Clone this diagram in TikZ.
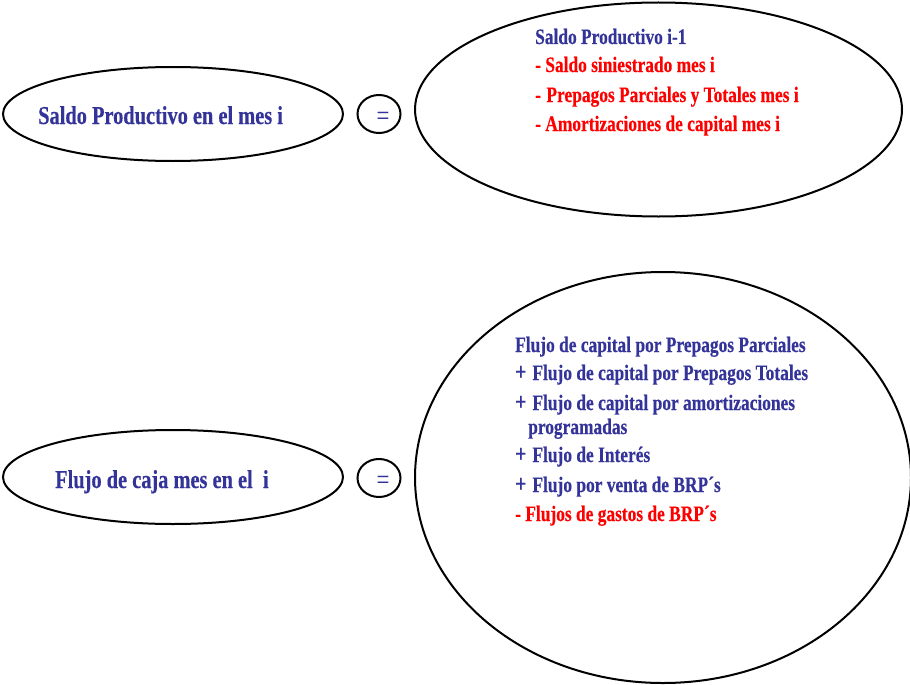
\documentclass[tikz,border=0pt]{standalone}
\usepackage{fontspec}
\setmainfont{Liberation Serif}[FakeStretch=0.79, BoldFeatures={FakeBold=0.4}]
\usetikzlibrary{shapes.geometric}
\definecolor{tblue}{HTML}{333399}
\definecolor{tred}{HTML}{FF0000}
\newcommand{\plusgap}{{\fontsize{25}{25}\selectfont +}\hspace{6pt}}
\tikzset{
  oval/.style={draw=black, line width=2pt, ellipse, inner sep=0pt},
  eqcirc/.style={draw=black, line width=2pt, ellipse, inner sep=0pt, minimum width=43pt, minimum height=38pt},
  eqtxt/.style={anchor=base, inner sep=0pt, text=tblue, font=\fontsize{29}{29}\selectfont},
  lefttxt/.style={anchor=base west, inner sep=0pt, text=tblue, font=\fontsize{25.8}{25.8}\selectfont\bfseries},
  bluetxt/.style={anchor=base west, inner sep=0pt, text=tblue, font=\fontsize{22}{22}\selectfont\bfseries},
  redtxt/.style={anchor=base west, inner sep=0pt, text=tred, font=\fontsize{22}{22}\selectfont\bfseries}
}
\begin{document}
\begin{tikzpicture}[x=1pt,y=-1pt]
\useasboundingbox (0,0) rectangle (910,685);
% row 1
\node[oval, minimum width=340pt, minimum height=94pt] (l1) at (173,114) {};
\node[lefttxt] (l1t) at (38,124) {Saldo Productivo en el mes i};
\node[eqcirc] (eq1) at (379,114) {};
\node[eqtxt] (eq1t) at (383,125.5) {=};
\node[oval, minimum width=487pt, minimum height=214pt] (r1) at (658.5,109.5) {};
\node[bluetxt] (r1a) at (535,44) {Saldo Productivo i-1};
\node[redtxt] (r1b) at (535,72) {- Saldo siniestrado mes i};
\node[redtxt] (r1c) at (535,102) {-\hspace{5.5pt}Prepagos Parciales y Totales mes i};
\node[redtxt] (r1d) at (535,131) {- Amortizaciones de capital mes i};
% row 2
\node[oval, minimum width=340pt, minimum height=94pt] (l2) at (173,477) {};
\node[lefttxt] (l2t) at (55,488) {Flujo de caja mes en el\ \ i};
\node[eqcirc] (eq2) at (379,478) {};
\node[eqtxt] (eq2t) at (383,489.5) {=};
\node[oval, minimum width=496pt, minimum height=411pt] (r2) at (663,477.5) {};
\node[bluetxt] (r2a) at (515,352) {Flujo de capital por Prepagos Parciales};
\node[bluetxt] (r2b) at (515,380) {\plusgap Flujo de capital por Prepagos Totales};
\node[bluetxt] (r2c) at (515,410) {\plusgap Flujo de capital por amortizaciones};
\node[bluetxt] (r2d) at (528,434) {programadas};
\node[bluetxt] (r2e) at (515,462) {\plusgap Flujo de Interés};
\node[bluetxt] (r2f) at (515,492) {\plusgap Flujo por venta de BRP´s};
\node[redtxt] (r2g) at (515,521) {- Flujos de gastos de BRP´s};
\end{tikzpicture}
\end{document}
